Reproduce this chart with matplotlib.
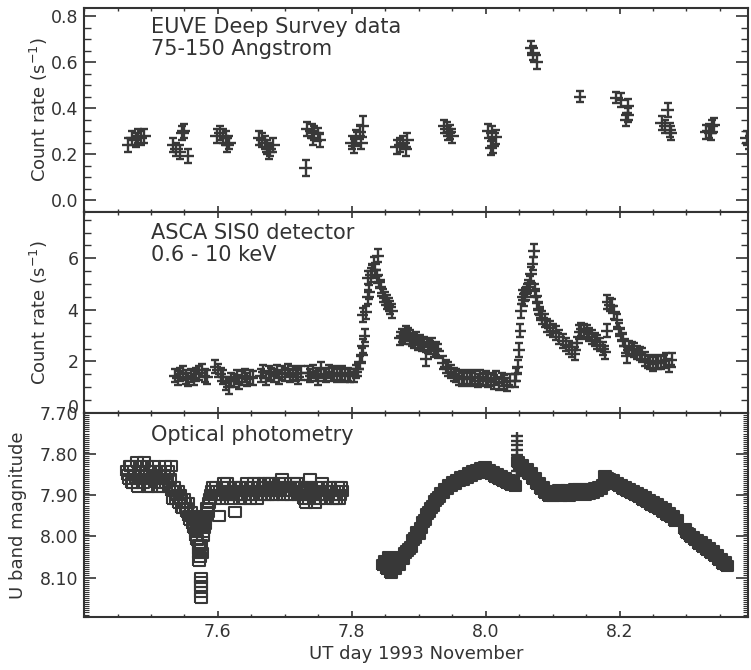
import matplotlib
matplotlib.use('Agg')
import matplotlib.pyplot as plt
import matplotlib.transforms as mtransforms
from matplotlib.ticker import MultipleLocator, FixedLocator, FormatStrFormatter

plt.rcParams['font.family'] = ['DejaVu Sans']

# ---------------- EUVE (top panel) ----------------
EUVE_T = [7.466, 7.472, 7.477, 7.481, 7.485, 7.490,
          7.533, 7.538, 7.543, 7.547, 7.549, 7.555,
          7.598, 7.603, 7.607, 7.612, 7.617, 7.614,
          7.662, 7.666, 7.670, 7.674, 7.678, 7.683, 7.676,
          7.731, 7.733, 7.740, 7.744, 7.749, 7.742, 7.752,
          7.800, 7.804, 7.807, 7.812, 7.816, 7.814,
          7.867, 7.872, 7.876, 7.881, 7.883,
          7.938, 7.942, 7.946, 7.950, 7.944,
          8.004, 8.010, 8.015, 8.011, 8.008,
          8.068, 8.071, 8.076,
          8.141,
          8.195, 8.202, 8.212, 8.212, 8.210,
          8.263, 8.268, 8.272, 8.275, 8.277,
          8.329, 8.333, 8.338, 8.341, 8.336,
          8.390, 8.393]
EUVE_RATE = [0.24, 0.27, 0.26, 0.28, 0.27, 0.28,
             0.24, 0.22, 0.21, 0.29, 0.30, 0.19,
             0.28, 0.29, 0.28, 0.27, 0.25, 0.24,
             0.27, 0.26, 0.25, 0.23, 0.22, 0.24, 0.21,
             0.14, 0.31, 0.30, 0.29, 0.285, 0.27, 0.26,
             0.25, 0.235, 0.275, 0.295, 0.32, 0.25,
             0.23, 0.24, 0.25, 0.22, 0.26,
             0.32, 0.31, 0.295, 0.28, 0.29,
             0.30, 0.29, 0.275, 0.235, 0.225,
             0.66, 0.64, 0.60,
             0.45,
             0.445, 0.435, 0.41, 0.37, 0.35,
             0.335, 0.32, 0.39, 0.305, 0.29,
             0.295, 0.30, 0.32, 0.325, 0.29,
             0.27, 0.25]
EUVE_ERR = [0.03, 0.03, 0.03, 0.03, 0.03, 0.03,
            0.03, 0.03, 0.03, 0.03, 0.03, 0.03,
            0.03, 0.03, 0.03, 0.03, 0.03, 0.03,
            0.03, 0.03, 0.03, 0.03, 0.03, 0.03, 0.03,
            0.035, 0.03, 0.03, 0.03, 0.03, 0.03, 0.03,
            0.03, 0.03, 0.03, 0.03, 0.045, 0.03,
            0.03, 0.03, 0.03, 0.03, 0.03,
            0.03, 0.03, 0.03, 0.03, 0.03,
            0.03, 0.03, 0.03, 0.03, 0.03,
            0.03, 0.03, 0.03,
            0.025,
            0.025, 0.03, 0.03, 0.03, 0.03,
            0.03, 0.03, 0.03, 0.03, 0.03,
            0.03, 0.03, 0.03, 0.03, 0.03,
            0.03, 0.03]
EUVE_XERR = 0.0095

# ---------------- ASCA (middle panel) ----------------
ASCA_T = [
    7.536, 7.540, 7.544, 7.548, 7.552, 7.556, 7.560, 7.564, 7.568, 7.572, 7.576, 7.580, 7.584,
    7.596, 7.600, 7.604, 7.608, 7.612, 7.616, 7.620, 7.624, 7.628, 7.632, 7.636, 7.640, 7.644, 7.648, 7.652,
    7.664, 7.668, 7.672, 7.676, 7.680, 7.684, 7.688, 7.692, 7.696, 7.700, 7.704, 7.708, 7.712, 7.716, 7.720, 7.724,
    7.734, 7.738, 7.742, 7.746, 7.750, 7.754, 7.758, 7.762, 7.766, 7.770, 7.774, 7.778, 7.782, 7.786, 7.790, 7.794, 7.798,
    7.804, 7.807, 7.809, 7.812, 7.815, 7.817, 7.819, 7.816, 7.821, 7.824, 7.826, 7.824, 7.828, 7.830, 7.833,
    7.835, 7.837, 7.839, 7.841, 7.843, 7.846, 7.849, 7.852, 7.855, 7.857, 7.860,
    7.872, 7.875, 7.878, 7.881, 7.884, 7.887, 7.890, 7.893, 7.896, 7.899, 7.902, 7.905, 7.908, 7.911,
    7.914, 7.917, 7.920, 7.923, 7.926, 7.929,
    7.936, 7.940, 7.944, 7.948, 7.952, 7.956, 7.960, 7.964, 7.968, 7.972, 7.976, 7.980, 7.984, 7.988,
    7.992, 7.996, 8.000, 8.004, 8.008, 8.012, 8.016, 8.020, 8.024, 8.028, 8.032, 8.036,
    8.044, 8.046, 8.048, 8.050, 8.052, 8.053, 8.055, 8.057, 8.059, 8.061, 8.063, 8.066, 8.068, 8.070,
    8.072, 8.073, 8.075, 8.077, 8.079, 8.081, 8.084, 8.088, 8.092, 8.096, 8.100, 8.105, 8.110, 8.115,
    8.120, 8.125, 8.129, 8.133,
    8.137, 8.140, 8.143, 8.147, 8.151, 8.155, 8.159, 8.163, 8.167, 8.171, 8.175, 8.179,
    8.181, 8.182, 8.185, 8.188, 8.192, 8.196, 8.199, 8.202, 8.205, 8.208, 8.211, 8.214, 8.218, 8.222,
    8.226, 8.230, 8.234, 8.238, 8.242, 8.246, 8.250, 8.254, 8.258, 8.262, 8.266, 8.270, 8.274, 8.278]
ASCA_RATE = [
    1.45, 1.35, 1.50, 1.55, 1.40, 1.30, 1.45, 1.35, 1.50, 1.55, 1.65, 1.45, 1.40,
    1.80, 1.65, 1.50, 1.40, 1.15, 1.00, 1.30, 1.25, 1.40, 1.20, 1.35, 1.45, 1.30, 1.40, 1.35,
    1.45, 1.60, 1.35, 1.55, 1.50, 1.45, 1.60, 1.40, 1.55, 1.50, 1.65, 1.45, 1.55, 1.50, 1.40, 1.55,
    1.55, 1.45, 1.60, 1.50, 1.35, 1.70, 1.50, 1.45, 1.60, 1.50, 1.55, 1.45, 1.50, 1.55, 1.45, 1.50, 1.45,
    1.45, 1.60, 1.70, 1.95, 2.25, 2.60, 3.00, 3.80, 3.90, 4.50, 4.70, 5.25, 5.35, 5.50, 5.80,
    5.55, 5.30, 6.10, 5.10, 4.90, 4.55, 4.45, 4.30, 4.20, 4.10, 3.95,
    2.90, 3.00, 2.95, 3.10, 3.05, 2.95, 2.85, 2.80, 2.90, 2.70, 2.75, 2.65, 2.70, 2.10,
    2.60, 2.55, 2.65, 2.45, 2.50, 2.40,
    1.95, 1.80, 1.70, 1.60, 1.50, 1.45, 1.35, 1.30, 1.40, 1.35, 1.30, 1.40, 1.35, 1.25,
    1.40, 1.30, 1.35, 1.25, 1.30, 1.20, 1.35, 1.15, 1.30, 1.20, 1.10, 1.25,
    1.25, 1.50, 1.80, 2.45, 3.20, 3.95, 4.50, 4.40, 4.60, 4.75, 4.90, 5.05, 5.40, 5.80,
    6.30, 4.75, 4.55, 4.25, 4.05, 3.85, 3.70, 3.60, 3.40, 3.30, 3.20, 3.10, 2.95, 2.80,
    2.65, 2.55, 2.45, 2.30,
    2.70, 3.15, 3.25, 3.20, 3.15, 3.05, 2.95, 2.85, 2.75, 2.65, 2.50, 2.35,
    3.20, 4.30, 4.20, 4.15, 3.90, 3.60, 3.25, 3.05, 2.85, 2.60, 2.20, 2.55, 2.50, 2.45,
    2.35, 2.30, 2.25, 2.10, 2.00, 1.95, 1.90, 2.00, 1.95, 1.95, 2.00, 2.05, 1.85, 2.05]
ASCA_ERR = 0.26
ASCA_XERR = 0.0085

# ---------------- Optical (bottom panel) ----------------
OPT1_T = [7.464, 7.467, 7.470, 7.473, 7.476, 7.479, 7.482, 7.485, 7.488, 7.491, 7.494, 7.497,
          7.500, 7.503, 7.506, 7.509, 7.512, 7.515, 7.518, 7.521, 7.524, 7.527, 7.530, 7.533,
          7.536, 7.539, 7.542, 7.545, 7.548, 7.551, 7.554, 7.557, 7.560, 7.563, 7.565, 7.567,
          7.569, 7.571, 7.573, 7.575, 7.577, 7.579, 7.581, 7.583, 7.572, 7.572,
          7.574, 7.574, 7.574, 7.574, 7.574,
          7.587, 7.590, 7.593, 7.596, 7.599, 7.602, 7.605, 7.608, 7.611, 7.614, 7.617, 7.620,
          7.623, 7.626, 7.629, 7.632, 7.635, 7.638, 7.641, 7.644, 7.647, 7.650, 7.653, 7.656,
          7.659, 7.662, 7.665, 7.668, 7.671, 7.674, 7.677, 7.680, 7.683, 7.686, 7.689, 7.692,
          7.695, 7.698, 7.701, 7.704, 7.707, 7.710, 7.713, 7.716, 7.719, 7.722, 7.725, 7.728,
          7.731, 7.734, 7.737, 7.740, 7.743, 7.746, 7.749, 7.752, 7.755, 7.758, 7.761, 7.764,
          7.767, 7.770, 7.773, 7.776, 7.779, 7.782, 7.785,
          7.4655, 7.4685, 7.4715, 7.4745, 7.4775, 7.4805, 7.4835, 7.4865, 7.4895, 7.4925,
          7.4955, 7.4985, 7.5015, 7.5045, 7.5075, 7.5105, 7.5135, 7.5165, 7.5195, 7.5225,
          7.5255, 7.5285, 7.5315, 7.5345, 7.5375, 7.5405, 7.5435, 7.5465, 7.5495, 7.5525,
          7.5555, 7.5585, 7.5615, 7.5640, 7.5660, 7.5680, 7.5700, 7.5720, 7.5760, 7.5780,
          7.5800, 7.5820, 7.5850, 7.5880,
          7.5915, 7.5945, 7.5975, 7.6005, 7.6035, 7.6065, 7.6095, 7.6125, 7.6155, 7.6185,
          7.6215, 7.6245, 7.6275, 7.6305, 7.6335, 7.6365, 7.6395, 7.6425, 7.6455, 7.6485,
          7.6515, 7.6545, 7.6575, 7.6605, 7.6635, 7.6665, 7.6695, 7.6725, 7.6755, 7.6785,
          7.6815, 7.6845, 7.6875, 7.6905, 7.6935, 7.6965, 7.6995, 7.7025, 7.7055, 7.7085,
          7.7115, 7.7145, 7.7175, 7.7205, 7.7235, 7.7265, 7.7295, 7.7325, 7.7355, 7.7385,
          7.7415, 7.7445, 7.7475, 7.7505, 7.7535, 7.7565, 7.7595, 7.7625, 7.7655, 7.7685,
          7.7715, 7.7745, 7.7775, 7.7805, 7.7835]
OPT1_MAG = [7.84, 7.86, 7.83, 7.87, 7.85, 7.82, 7.86, 7.84, 7.87, 7.85, 7.83, 7.86,
            7.88, 7.85, 7.84, 7.87, 7.85, 7.86, 7.88, 7.83, 7.86, 7.88, 7.83, 7.91,
            7.89, 7.90, 7.92, 7.91, 7.93, 7.92, 7.94, 7.95, 7.94, 7.97, 7.96, 7.99,
            8.01, 8.03, 8.05, 8.02, 8.00, 7.98, 7.96, 7.93, 8.04, 8.06,
            8.10, 8.11, 8.12, 8.135, 8.15,
            7.92, 7.90, 7.88, 7.91, 7.89, 7.95, 7.90, 7.88, 7.89, 7.87, 7.90, 7.91,
            7.89, 7.94, 7.90, 7.88, 7.90, 7.89, 7.91, 7.87, 7.89, 7.90, 7.88, 7.89,
            7.91, 7.87, 7.89, 7.88, 7.90, 7.89, 7.87, 7.88, 7.90, 7.89, 7.88, 7.87,
            7.86, 7.89, 7.88, 7.90, 7.88, 7.89, 7.87, 7.88, 7.90, 7.89, 7.88, 7.91,
            7.92, 7.90, 7.86, 7.89, 7.91, 7.88, 7.90, 7.89, 7.87, 7.90, 7.91, 7.89,
            7.88, 7.90, 7.89, 7.91, 7.88, 7.90, 7.89,
            7.85, 7.83, 7.87, 7.84, 7.86, 7.88, 7.83, 7.85, 7.82, 7.86,
            7.88, 7.84, 7.86, 7.83, 7.85, 7.88, 7.84, 7.87, 7.85, 7.87,
            7.84, 7.86, 7.89, 7.88, 7.91, 7.89, 7.90, 7.93, 7.91, 7.93,
            7.92, 7.96, 7.95, 7.98, 7.95, 8.00, 7.98, 8.02, 8.04, 7.99,
            7.97, 7.95, 7.94, 7.91,
            7.89, 7.90, 7.88, 7.90, 7.89, 7.91, 7.87, 7.90, 7.88, 7.89,
            7.90, 7.88, 7.90, 7.89, 7.91, 7.88, 7.90, 7.89, 7.88, 7.91,
            7.89, 7.87, 7.90, 7.88, 7.90, 7.89, 7.87, 7.88, 7.90, 7.89,
            7.87, 7.88, 7.90, 7.89, 7.88, 7.90, 7.87, 7.89, 7.88, 7.90,
            7.88, 7.89, 7.87, 7.88, 7.90, 7.89, 7.90, 7.88, 7.91, 7.88,
            7.90, 7.92, 7.89, 7.91, 7.88, 7.90, 7.89, 7.90, 7.88, 7.89,
            7.91, 7.90, 7.89, 7.91, 7.88]

OPT2_T = [7.846, 7.849, 7.852, 7.855, 7.858, 7.861, 7.864, 7.867, 7.870, 7.873, 7.876, 7.879,
          7.882, 7.885, 7.888, 7.891, 7.894, 7.897, 7.900, 7.903, 7.906, 7.909, 7.912, 7.915,
          7.918, 7.921, 7.924, 7.927, 7.930, 7.933, 7.936, 7.939, 7.942, 7.945, 7.948, 7.951,
          7.954, 7.957, 7.960, 7.963, 7.966, 7.969, 7.972, 7.975, 7.978, 7.981, 7.984, 7.987,
          7.990, 7.993, 7.996, 7.999, 8.002, 8.005, 8.008, 8.011, 8.014, 8.017, 8.020, 8.023,
          8.026, 8.029, 8.032, 8.035, 8.038, 8.041, 8.044,
          8.049, 8.052, 8.055, 8.058, 8.061, 8.064, 8.067, 8.070, 8.073, 8.076, 8.079, 8.082,
          8.085, 8.088, 8.091, 8.094, 8.097, 8.100, 8.103, 8.106, 8.109, 8.112, 8.115, 8.118,
          8.121, 8.124, 8.127, 8.130, 8.133, 8.136, 8.139, 8.142, 8.145, 8.148, 8.151, 8.154,
          8.157, 8.160, 8.163, 8.166, 8.169, 8.172, 8.175,
          8.178, 8.181, 8.184, 8.187, 8.190, 8.193, 8.196, 8.199, 8.202, 8.205, 8.208, 8.211,
          8.214, 8.217, 8.220, 8.223, 8.226, 8.229, 8.232, 8.235, 8.238, 8.241, 8.244, 8.247,
          8.250, 8.253, 8.256, 8.259, 8.262, 8.265, 8.268, 8.271, 8.274, 8.277, 8.280, 8.283,
          8.286,
          8.298, 8.301, 8.304, 8.307, 8.310, 8.313, 8.316, 8.319, 8.322, 8.325, 8.328, 8.331,
          8.334, 8.337, 8.340, 8.343, 8.346, 8.349, 8.352, 8.355, 8.358, 8.361]
OPT2_MAG = [8.07, 8.06, 8.08, 8.05, 8.09, 8.07, 8.08, 8.06, 8.07, 8.05, 8.055, 8.04,
            8.035, 8.03, 8.025, 8.01, 8.005, 7.99, 7.995, 7.98, 7.965, 7.96, 7.945, 7.94,
            7.93, 7.925, 7.915, 7.91, 7.905, 7.895, 7.895, 7.885, 7.885, 7.875, 7.877, 7.868,
            7.872, 7.862, 7.866, 7.856, 7.862, 7.852, 7.857, 7.846, 7.853, 7.842, 7.848, 7.838,
            7.845, 7.834, 7.841, 7.832, 7.840, 7.838, 7.849, 7.843, 7.855, 7.849, 7.861, 7.853,
            7.866, 7.857, 7.870, 7.862, 7.875, 7.866, 7.878,
            7.820, 7.828, 7.826, 7.838, 7.836, 7.848, 7.846, 7.860, 7.857, 7.872, 7.869, 7.884,
            7.880, 7.895, 7.889, 7.902, 7.892, 7.903, 7.890, 7.900, 7.888, 7.902, 7.889, 7.898,
            7.887, 7.901, 7.889, 7.899, 7.886, 7.898, 7.885, 7.897, 7.888, 7.899, 7.886, 7.896,
            7.885, 7.894, 7.882, 7.890, 7.880, 7.884, 7.876,
            7.854, 7.858, 7.860, 7.866, 7.864, 7.872, 7.869, 7.878, 7.874, 7.884, 7.880, 7.890,
            7.885, 7.895, 7.890, 7.900, 7.894, 7.905, 7.899, 7.911, 7.905, 7.917, 7.911, 7.923,
            7.917, 7.929, 7.922, 7.934, 7.928, 7.940, 7.934, 7.947, 7.942, 7.954, 7.950, 7.962,
            7.960,
            7.983, 7.992, 7.993, 8.002, 8.001, 8.010, 8.008, 8.018, 8.014, 8.026, 8.021, 8.032,
            8.029, 8.040, 8.036, 8.048, 8.045, 8.058, 8.054, 8.066, 8.062, 8.072]

OPT_SPIKE_T = [8.047, 8.047, 8.047, 8.047, 8.047, 8.047, 8.047, 8.047, 8.047]
OPT_SPIKE_MAG = [7.755, 7.767, 7.779, 7.791, 7.803, 7.815, 7.828, 7.840, 7.852]
OPT_SPIKE_ERR = 0.008
OPT_SPIKE_XERR = 0.0095

X_MAJOR = [7.6, 7.8, 8.0, 8.2]

INK = '#333333'
DATA = '#383838'

fig = plt.figure(figsize=(7.51, 6.70), dpi=100)
ax1 = fig.add_axes([0.1119, 0.6836, 0.8842, 0.3045])
ax2 = fig.add_axes([0.1119, 0.3836, 0.8842, 0.3000])
ax3 = fig.add_axes([0.1119, 0.0791, 0.8842, 0.3045])

LW = 1.7
# top
ax1.errorbar(EUVE_T, EUVE_RATE, yerr=EUVE_ERR, fmt='none', ecolor=DATA,
             elinewidth=LW, capsize=3, capthick=LW)
ax1.errorbar(EUVE_T, EUVE_RATE, xerr=EUVE_XERR, fmt='none', ecolor=DATA,
             elinewidth=LW, capsize=0)
# middle
ax2.errorbar(ASCA_T, ASCA_RATE, yerr=ASCA_ERR, fmt='none', ecolor=DATA,
             elinewidth=LW, capsize=3, capthick=LW)
ax2.errorbar(ASCA_T, ASCA_RATE, xerr=ASCA_XERR, fmt='none', ecolor=DATA,
             elinewidth=LW, capsize=0)
# bottom
rect = [(-1, -0.75), (1, -0.75), (1, 0.75), (-1, 0.75), (-1, -0.75)]
ax3.plot(OPT1_T, OPT1_MAG, ls='none', marker=rect, ms=8.8, mfc='none',
         mec=DATA, mew=1.5)
ax3.plot(OPT2_T, OPT2_MAG, ls='none', marker=rect, ms=8.8, mfc=DATA,
         mec=DATA, mew=1.5)
ax3.errorbar(OPT_SPIKE_T, OPT_SPIKE_MAG, yerr=OPT_SPIKE_ERR, xerr=OPT_SPIKE_XERR,
             fmt='none', ecolor=DATA, elinewidth=LW, capsize=0)

for ax in (ax1, ax2, ax3):
    ax.set_xlim(7.4, 8.392)
    ax.xaxis.set_major_locator(FixedLocator(X_MAJOR))
    ax.xaxis.set_minor_locator(MultipleLocator(0.05))
    ax.xaxis.set_tick_params(which='major', direction='in', top=True, bottom=True,
                             length=4.5, width=1.2, color=INK)
    ax.xaxis.set_tick_params(which='minor', direction='in', top=True, bottom=True,
                             length=2.5, width=1.0, color=INK)
    ax.yaxis.set_tick_params(which='major', direction='in', left=True, right=True,
                             length=8.5, width=1.2, color=INK)
    ax.yaxis.set_tick_params(which='minor', direction='in', left=True, right=True,
                             length=5, width=1.0, color=INK)
    ax.tick_params(labelsize=12.5, labelcolor=INK, pad=4)
    for s in ax.spines.values():
        s.set_linewidth(1.5)
        s.set_color(INK)

ax1.tick_params(labelbottom=False)
ax2.tick_params(labelbottom=False)

ax1.set_ylim(-0.052, 0.835)
ax1.yaxis.set_major_locator(MultipleLocator(0.2))
ax1.yaxis.set_minor_locator(MultipleLocator(0.05))
ax1.yaxis.set_major_formatter(FormatStrFormatter('%.1f'))

ax2.set_ylim(0, 7.8)
ax2.yaxis.set_major_locator(MultipleLocator(2))
ax2.yaxis.set_minor_locator(MultipleLocator(0.5))

ax3.set_ylim(8.196, 7.70)
ax3.yaxis.set_major_locator(FixedLocator([7.7, 7.8, 7.9, 8.0, 8.1]))
ax3.yaxis.set_minor_locator(MultipleLocator(0.005))
ax3.yaxis.set_major_formatter(FormatStrFormatter('%.2f'))
ax3.yaxis.set_tick_params(which='minor', length=3.5, width=0.8)

ax1.set_ylabel('Count rate (s$^{-1}$)', fontsize=13, color=INK)
ax2.set_ylabel('Count rate (s$^{-1}$)', fontsize=13, color=INK)
ax3.set_ylabel('U band magnitude', fontsize=13, color=INK)
ax1.yaxis.set_label_coords(-0.052, 0.5)
ax2.yaxis.set_label_coords(-0.052, 0.5)
ax3.yaxis.set_label_coords(-0.086, 0.5)
ax3.set_xlabel('UT day 1993 November', fontsize=13, color=INK, labelpad=3)

ax1.text(0.101, 1 - 9 / 204, 'EUVE Deep Survey data\n75-150 Angstrom', transform=ax1.transAxes,
         ha='left', va='top', fontsize=15, color=INK, linespacing=1.1)
ax2.text(0.101, 1 - 11 / 201, 'ASCA SIS0 detector\n0.6 - 10 keV', transform=ax2.transAxes,
         ha='left', va='top', fontsize=15, color=INK, linespacing=1.1)
ax3.text(0.101, 1 - 12 / 204, 'Optical photometry', transform=ax3.transAxes,
         ha='left', va='top', fontsize=15, color=INK)

# middle panel "0" label sits slightly above the panel corner, as in the original
fig.canvas.draw()
shift = mtransforms.ScaledTranslation(0, 5 / 72, fig.dpi_scale_trans)
for lbl in ax2.get_yticklabels():
    if lbl.get_text() == '0':
        lbl.set_transform(lbl.get_transform() + shift)

fig.savefig('out.png', dpi=100, facecolor='white')
